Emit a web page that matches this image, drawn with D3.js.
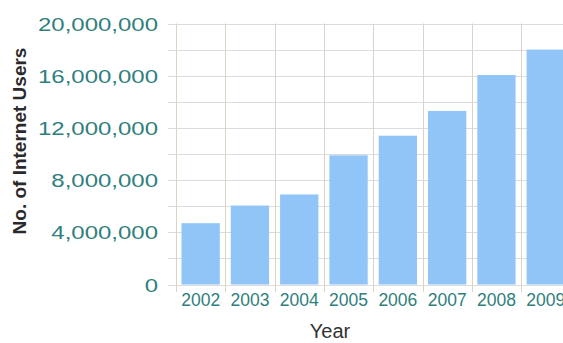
<!DOCTYPE html>
<html><head><meta charset="utf-8">
<script src="https://cdn.jsdelivr.net/npm/d3@7/dist/d3.min.js"></script>
<style>
html,body{margin:0;padding:0;background:#fff;overflow:hidden}
svg{display:block}
text{font-family:"Liberation Sans",Arial,sans-serif}
</style></head>
<body>
<script>
const years = ["2002","2003","2004","2005","2006","2007","2008","2009"];
const users = [4700000, 6050000, 6900000, 9900000, 11400000, 13300000, 16050000, 18000000];
const yTickValues = [0, 4000000, 8000000, 12000000, 16000000, 20000000];
const yGridValues = [0,2000000,4000000,6000000,8000000,10000000,12000000,14000000,16000000,18000000,20000000];
const xTitle = "Year";
const yTitle = "No. of Internet Users";

const W = 563, H = 343;
const svg = d3.select("body").append("svg").attr("width", W).attr("height", H);

const x = d3.scaleBand().domain(years).range([176, 176 + 8 * 49.3]).padding(0);
const y = d3.scaleLinear().domain([0, 20000000]).range([284.5, 23.5]);

const tealText = "#2f7f7c";
const gridH = "#dcdcdc";
const gridV = "#ddd2c8";

// horizontal gridlines
svg.append("g").selectAll("line").data(yGridValues).join("line")
  .attr("x1", 168).attr("x2", W)
  .attr("y1", d => Math.round(y(d)) + 0.5).attr("y2", d => Math.round(y(d)) + 0.5)
  .attr("stroke", gridH).attr("stroke-width", 1);

// vertical gridlines at band boundaries
const bounds = years.map(d => x(d)).concat([x.range()[1]]);
svg.append("g").selectAll("line").data(bounds).join("line")
  .attr("x1", d => Math.round(d) + 0.5).attr("x2", d => Math.round(d) + 0.5)
  .attr("y1", y(20000000)).attr("y2", 292)
  .attr("stroke", gridV).attr("stroke-width", 1);

// bars
const inset = 5.5;
svg.append("g").selectAll("rect").data(years).join("rect")
  .attr("x", d => x(d) + inset)
  .attr("width", x.bandwidth() - 2 * inset)
  .attr("y", (d, i) => y(users[i]))
  .attr("height", (d, i) => y(0) - y(users[i]))
  .attr("fill", "#92c5f7");

// y axis labels
const yAxis = d3.axisLeft(y).tickValues(yTickValues).tickSize(0).tickPadding(0)
  .tickFormat(d3.format(","));
const gy = svg.append("g").attr("transform", "translate(158,0)").call(yAxis);
gy.select(".domain").remove();
const yTexts = gy.selectAll("text")
  .attr("fill", tealText).attr("font-size", 18.5)
  .attr("dy", "0.36em");
let maxW = 0;
yTexts.each(function(){ maxW = Math.max(maxW, this.getComputedTextLength()); });
const stretch = 120 / maxW;
yTexts.each(function(){
  const w = this.getComputedTextLength();
  d3.select(this).attr("textLength", w * stretch).attr("lengthAdjust", "spacingAndGlyphs");
});

// x axis labels
const xAxis = d3.axisBottom(x).tickSize(0).tickPadding(0);
const gx = svg.append("g").attr("transform", "translate(0,293)").call(xAxis);
gx.select(".domain").remove();
gx.selectAll("text")
  .attr("fill", tealText).attr("font-size", 17.5)
  .attr("dy", "0.74em");

// titles
svg.append("text").attr("x", 330).attr("y", 338)
  .attr("text-anchor", "middle").attr("font-size", 20).attr("fill", "#333")
  .text(xTitle);
svg.append("text")
  .attr("transform", "translate(26,141) rotate(-90)")
  .attr("text-anchor", "middle").attr("font-size", 19).attr("font-weight", "bold")
  .attr("fill", "#2a2a2a").text(yTitle);
</script>
</body></html>
